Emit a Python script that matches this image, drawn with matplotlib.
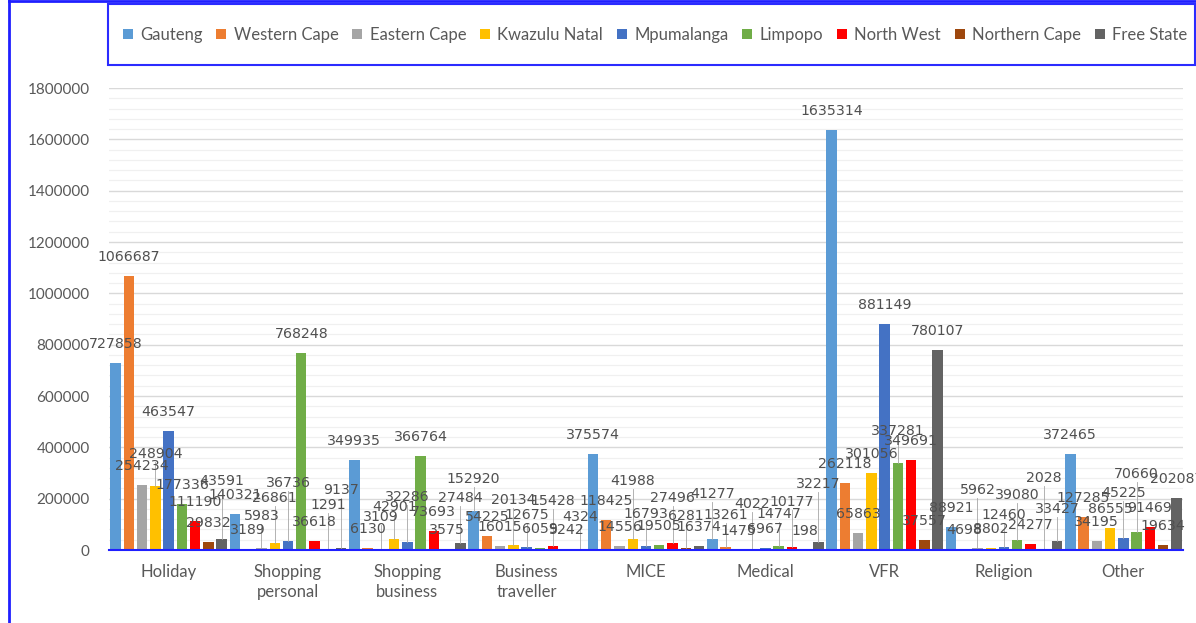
import matplotlib.pyplot as plt
import numpy as np
from matplotlib.lines import Line2D
from matplotlib.patches import Patch, Rectangle
from matplotlib.ticker import MultipleLocator

# ── Visitor numbers by purpose of trip and province ─────────────────────────
categories = ["Holiday", "Shopping\npersonal", "Shopping\nbusiness", "Business\ntraveller",
              "MICE", "Medical", "VFR", "Religion", "Other"]

gauteng = [727858, 140321, 349935, 152920, 375574, 41277, 1635314, 88921, 372465]
western_cape = [1066687, 3189, 6130, 54225, 118425, 13261, 262118, 4698, 127285]
eastern_cape = [254234, 5983, 3109, 16015, 14556, 1475, 65863, 5962, 34195]
kwazulu_natal = [248904, 26861, 42901, 20134, 41988, 4022, 301056, 8802, 86555]
mpumalanga = [463547, 36736, 32286, 12675, 16793, 6967, 881149, 12460, 45225]
limpopo = [177336, 768248, 366764, 6059, 19505, 14747, 337281, 39080, 70660]
north_west = [111190, 36618, 73693, 15428, 27496, 10177, 349691, 24277, 91469]
northern_cape = [29832, 1291, 3575, 5242, 6281, 198, 37557, 2028, 19634]
free_state = [43591, 9137, 27484, 4324, 16374, 32217, 780107, 33427, 202087]

provinces = ["Gauteng", "Western Cape", "Eastern Cape", "Kwazulu Natal", "Mpumalanga",
             "Limpopo", "North West", "Northern Cape", "Free State"]
series = [gauteng, western_cape, eastern_cape, kwazulu_natal, mpumalanga,
          limpopo, north_west, northern_cape, free_state]
colors = ["#5B9BD5", "#ED7D31", "#A5A5A5", "#FFC000", "#4472C4",
          "#70AD47", "#FF0000", "#9E480E", "#636363"]

y_ticks = np.arange(0, 1800001, 200000)

W, H = 1196, 623
fig = plt.figure(figsize=(W / 100, H / 100), dpi=100)
ax = fig.add_axes([109 / W, (H - 550) / H, (1183 - 109) / W, (550 - 88) / H])

n = len(series)
slot = 1.0 / n
x = np.arange(len(categories))
for j, (vals, col) in enumerate(zip(series, colors)):
    ax.bar(x + (j - (n - 1) / 2) * slot, vals, width=slot * 0.79, color=col,
           label=provinces[j], zorder=3)

ax.set_xlim(-0.5, len(categories) - 0.5)
ax.set_yticks(y_ticks)
ax.set_yticklabels([f"{v}" for v in y_ticks], family="Lato")
ax.yaxis.set_minor_locator(MultipleLocator(40000))
ax.set_ylim(0, 1800000)
ax.grid(True, which="major", axis="y", color="#D9D9D9", lw=1.0, zorder=0)
ax.grid(True, which="minor", axis="y", color="#F0F0F0", lw=0.9, zorder=0)
ax.set_axisbelow(True)

for side in ("top", "right", "left"):
    ax.spines[side].set_visible(False)
ax.spines["bottom"].set_color("#1F1FFF")
ax.spines["bottom"].set_linewidth(1.5)
ax.spines["bottom"].set_zorder(4)

ax.set_xticks(x)
ax.set_xticklabels(categories, family="Lato", fontsize=12, color="#595959", linespacing=1.35)
ax.tick_params(axis="x", length=0, pad=10)
ax.tick_params(axis="y", which="both", length=0, pad=14, labelsize=11, labelcolor="#595959")

# ── Value labels: nudge upward when they collide, with a thin leader line ───
placed = []
to_data = ax.transData.inverted()
for i in range(len(categories)):
    for j, vals in enumerate(series):
        v = vals[i]
        s = f"{v}"
        bx = i + (j - (n - 1) / 2) * slot
        px, py = ax.transData.transform((bx, v))
        w, h = 8.7 * len(s), 12
        ly = py + 12
        for _ in range(4):
            clash = any(abs(px - qx) < (w + qw) / 2 * 0.75 and abs(ly - qy) < h * 0.8
                        for qx, qy, qw in placed)
            if not clash:
                break
            ly += 13
        placed.append((px, ly, w))
        tx, ty = to_data.transform((px, ly))
        ax.text(tx, ty, s, ha="center", va="bottom", fontsize=10.2, color="#505050",
                family="DejaVu Sans", zorder=5, clip_on=False)
        if ly - py > 18:
            _, top = to_data.transform((px, ly - 1))
            ax.plot([bx, bx], [v, top], color="#A6A6A6", lw=0.6, zorder=4, clip_on=False)

# ── Legend band and outer frame ─────────────────────────────────────────────
fig.add_artist(Rectangle((108 / W, 1 - 65 / H), (1195 - 108) / W, 61 / H,
                         transform=fig.transFigure, fill=False, edgecolor="#2B2BFF", lw=1.5))
fig.add_artist(Line2D([8.5 / W, 8.5 / W], [0, 1], transform=fig.transFigure,
                      color="#1F1FFF", lw=2))
fig.add_artist(Line2D([8.5 / W, 1], [1 - 1 / H, 1 - 1 / H], transform=fig.transFigure,
                      color="#1F1FFF", lw=2))

handles = [Patch(facecolor=c, edgecolor="none") for c in colors]
leg = fig.legend(handles, provinces, loc="center", ncol=n, mode="expand", frameon=False,
                 bbox_to_anchor=(116 / W, 1 - 50 / H, (1194 - 116) / W, 30 / H),
                 handlelength=0.6, handleheight=0.6, handletextpad=0.45,
                 columnspacing=0.8, borderaxespad=0,
                 prop={"family": "Lato", "size": 12})
for t in leg.get_texts():
    t.set_color("#595959")

fig.savefig("out.png", dpi=100)
